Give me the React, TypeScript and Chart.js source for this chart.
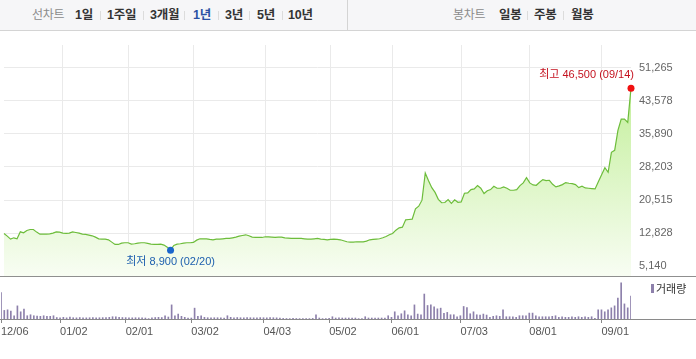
import React, { useEffect, useRef } from 'react';
import { Chart, registerables } from 'chart.js';

Chart.register(...registerables);

const FONT = '"Liberation Sans", "Noto Sans CJK KR", sans-serif';

// Trading calendar (KRX), first and last day shown
const START_DAY = '2016-12-06';
const END_DAY = '2017-09-14';
const HOLIDAYS = [
  '2016-12-30', '2017-01-27', '2017-01-30', '2017-03-01', '2017-05-01',
  '2017-05-03', '2017-05-05', '2017-05-09', '2017-06-06', '2017-08-15',
];

// X tick labels (dates that carry a tick)
const xTickDates = ['12/06', '01/02', '02/01', '03/02', '04/03', '05/02', '06/01', '07/03', '08/01', '09/01'];

// Y tick values (price axis)
const yTickValues = [5140, 12827.5, 20515, 28202.5, 35890, 43577.5, 51265];

// Daily close prices
const prices = [
  12770, 12150, 11450, 11760, 11530, 13150, 12920, 13460, 13690, 13690,
  13080, 12610, 12610, 12610, 12690, 12840, 13150, 13080, 12840, 12770,
  12840, 13150, 13000, 12840, 12610, 12540, 12380, 12230, 11920, 11530,
  11460, 11460, 11300, 10760, 10220, 10220, 10530, 10610, 10610, 10300,
  10380, 10530, 10610, 10610, 10450, 10300, 10220, 10220, 10300, 10070,
  9600, 8900, 9990, 10300, 10380, 10530, 10610, 10610, 10680, 11220,
  11530, 11530, 11530, 11380, 11300, 11460, 11460, 11530, 11610, 11610,
  11760, 11920, 12150, 12300, 12460, 12230, 11920, 11840, 11840, 11840,
  12000, 12000, 11920, 11840, 11920, 11920, 11760, 11690, 11610, 11610,
  11610, 11610, 11530, 11460, 11460, 11530, 11610, 11460, 11380,
  11300, 11380, 11460, 11380, 11300, 11070, 10840, 10760, 10760, 10840,
  10840, 10840, 10990, 11300, 11380, 11460, 11540, 11770, 12080, 12460,
  12770, 13540, 14080, 14230, 15930, 16010, 16100, 18480, 19100, 20500,
  26800, 25000, 23400, 22300, 20700, 19900, 19950, 20650, 19750, 20600,
  20000, 20100, 22100, 22200, 22960, 23110, 23900, 23270, 22040, 22700,
  22960, 23730, 23260, 23260, 23570, 23260, 22800, 22800, 22950, 23880,
  24500, 25730, 24500, 24040, 23960, 24650, 25270, 25040, 25120, 24190,
  23580, 23810, 24110, 24580, 24420, 24340, 24110, 23420, 23730, 23340,
  23260, 23190, 23110, 24800, 26400, 28050, 26970, 31600, 32060, 36690,
  39320, 39320, 38540, 46500,
];

// Daily volume (relative units)
const volumes = [
  2670, 870, 930, 800, 330, 1330, 730, 1000, 330, 430,
  330, 300, 270, 330, 270, 270, 330, 150, 130, 170,
  120, 200, 130, 120, 150, 130, 120, 130, 140, 120,
  130, 140, 150, 170, 230, 230, 170, 150, 140, 130,
  120, 130, 120, 110, 100, 40, 120, 150, 170, 150,
  330, 200, 1430, 330, 500, 270, 170, 100, 100, 1100,
  270, 330, 170, 130, 130, 130, 130, 130, 100, 330,
  170, 130, 150, 130, 120, 150, 130, 120, 130, 140,
  130, 120, 150, 130, 120, 100, 60, 50, 40, 80,
  50, 40, 40, 50, 40, 60, 430, 100, 40,
  40, 60, 230, 100, 120, 100, 100, 100, 100, 100,
  40, 40, 230, 100, 100, 100, 100, 100, 100, 330,
  170, 730, 330, 530, 830, 430, 330, 1430, 500, 430,
  2530, 1370, 1430, 1230, 1030, 1100, 570, 670, 430, 430,
  230, 330, 1270, 1170, 530, 730, 430, 400, 500, 400,
  170, 270, 330, 270, 930, 230, 230, 230, 170, 330,
  330, 330, 600, 600, 330, 230, 230, 230, 230, 270,
  330, 170, 230, 170, 170, 230, 170, 230, 170, 230,
  170, 230, 70, 930, 930, 730, 930, 1130, 1330, 2130,
  3670, 1530, 1130, 2330,
];

const periodTabs = ['1일', '1주일', '3개월', '1년', '3년', '5년', '10년'];
const candleTabs = ['일봉', '주봉', '월봉'];

function tradingDays(): string[] {
  const out: string[] = [];
  const d = new Date(START_DAY + 'T00:00:00Z');
  const end = new Date(END_DAY + 'T00:00:00Z');
  while (d.getTime() <= end.getTime()) {
    const iso = d.toISOString().slice(0, 10);
    const wd = d.getUTCDay();
    if (wd !== 0 && wd !== 6 && !HOLIDAYS.includes(iso)) out.push(iso.slice(5, 7) + '/' + iso.slice(8, 10));
    d.setUTCDate(d.getUTCDate() + 1);
  }
  return out;
}

const dates = tradingDays();
const tickIdx = xTickDates.map((t) => dates.indexOf(t)).filter((i) => i >= 0);
const fmt = (v: number) => Math.round(v).toLocaleString('en-US');
const maxIdx = prices.indexOf(Math.max(...prices));
const minIdx = prices.indexOf(Math.min(...prices));

const annotPlugin = {
  id: 'annot',
  afterDatasetsDraw(chart: any) {
    const meta = chart.getDatasetMeta(0);
    const ctx = chart.ctx;
    const pMax = meta.data[maxIdx];
    const pMin = meta.data[minIdx];
    ctx.save();
    ctx.font = '11px ' + FONT;
    ctx.textBaseline = 'middle';
    if (pMax) {
      ctx.fillStyle = '#c4121f';
      ctx.textAlign = 'right';
      ctx.fillText(`최고 ${fmt(prices[maxIdx])} (${dates[maxIdx]})`, pMax.x + 3, pMax.y - 13);
    }
    if (pMin) {
      ctx.fillStyle = '#1d5fae';
      ctx.textAlign = 'center';
      ctx.fillText(`최저 ${fmt(prices[minIdx])} (${dates[minIdx]})`, pMin.x, pMin.y + 12);
    }
    ctx.restore();
  },
};

function PriceChart() {
  const ref = useRef<HTMLCanvasElement>(null);
  useEffect(() => {
    const chart = new Chart(ref.current!, {
      type: 'line',
      data: {
        labels: dates,
        datasets: [
          {
            data: prices,
            borderColor: '#6dbd3b',
            borderWidth: 1.2,
            tension: 0,
            fill: 'start',
            clip: false as any,
            backgroundColor: (c: any) => {
              const { ctx, chartArea } = c.chart;
              if (!chartArea) return 'rgba(0,0,0,0)';
              const g = ctx.createLinearGradient(0, chartArea.top, 0, chartArea.bottom);
              g.addColorStop(0, '#b8ec88');
              g.addColorStop(1, '#f8fdf3');
              return g;
            },
            pointRadius: (c: any) => (c.dataIndex === maxIdx || c.dataIndex === minIdx ? 3.5 : 0),
            pointBackgroundColor: (c: any) => (c.dataIndex === maxIdx ? '#f01010' : '#1a66cc'),
            pointBorderWidth: 0,
          },
        ],
      },
      options: {
        responsive: false,
        animation: false,
        events: [],
        layout: { padding: { left: 1, top: 14, bottom: 4, right: 0 } },
        plugins: { legend: { display: false }, tooltip: { enabled: false } },
        scales: {
          x: {
            type: 'category',
            offset: false,
            grid: { color: '#eaeaea', drawTicks: false, offset: false },
            border: { display: false },
            ticks: { display: false, autoSkip: false, padding: 0 },
            afterBuildTicks: (s: any) => {
              s.ticks = tickIdx.filter((i) => i > 0).map((v) => ({ value: v }));
            },
            afterFit: (s: any) => {
              s.height = 0;
              s.paddingLeft = 0;
              s.paddingRight = 0;
            },
          },
          y: {
            position: 'right',
            min: 2896,
            max: 56517,
            grid: { color: '#eaeaea', drawTicks: false },
            border: { display: false },
            afterBuildTicks: (s: any) => {
              s.ticks = yTickValues.map((v) => ({ value: v }));
            },
            ticks: {
              callback: (v: any) => fmt(Number(v)),
              color: '#666',
              font: { family: FONT, size: 11 },
              padding: 8,
            },
            afterFit: (s: any) => {
              s.width = 65;
              s.paddingTop = 0;
              s.paddingBottom = 0;
            },
          },
        },
      } as any,
      plugins: [annotPlugin],
    });
    return () => chart.destroy();
  }, []);
  return <canvas ref={ref} width={696} height={249} style={{ position: 'absolute', left: 0, top: 31 }} />;
}

function VolumeChart() {
  const ref = useRef<HTMLCanvasElement>(null);
  useEffect(() => {
    const chart = new Chart(ref.current!, {
      type: 'bar',
      data: {
        labels: dates,
        datasets: [{ data: volumes, backgroundColor: '#8d80ab', barThickness: 1 }],
      },
      options: {
        responsive: false,
        animation: false,
        events: [],
        layout: { padding: { left: 1, top: 2, bottom: 0, right: 65 } },
        plugins: { legend: { display: false }, tooltip: { enabled: false } },
        scales: {
          x: {
            type: 'category',
            offset: false,
            grid: { drawOnChartArea: false, drawTicks: true, tickLength: 4, color: '#888', offset: false },
            border: { display: true, color: '#888' },
            ticks: {
              align: 'start',
              maxRotation: 0,
              autoSkip: false,
              padding: 2,
              color: '#555',
              font: { family: FONT, size: 11 },
              callback: (v: any) => dates[v],
            },
            afterBuildTicks: (s: any) => {
              s.ticks = tickIdx.map((v) => ({ value: v }));
            },
            afterFit: (s: any) => {
              s.height = 40;
              s.paddingLeft = 0;
              s.paddingRight = 0;
            },
          },
          y: { display: false, min: 0, max: 3750 },
        },
      } as any,
    });
    return () => chart.destroy();
  }, []);
  return <canvas ref={ref} width={696} height={79} style={{ position: 'absolute', left: 0, top: 280 }} />;
}

const tabPos = [75, 107, 150, 193, 225, 257, 288];
const sepPos = [100, 143, 184, 218, 249, 282];
const candlePos = [499, 534, 571];
const candleSep = [527, 563];

export default function App() {
  const tabStyle = (x: number, color: string, bold: boolean): React.CSSProperties => ({
    position: 'absolute',
    left: x,
    top: 7,
    fontSize: bold ? 12.5 : 12,
    lineHeight: '16px',
    fontWeight: bold ? 700 : 400,
    color,
    fontFamily: FONT,
    whiteSpace: 'nowrap',
    letterSpacing: bold ? -0.2 : -0.3,
  });
  const sepStyle = (x: number): React.CSSProperties => ({
    position: 'absolute',
    left: x,
    top: 11,
    width: 1,
    height: 9,
    background: '#dcdcdc',
  });
  return (
    <div style={{ position: 'absolute', left: 0, top: 0, width: 696, height: 359, background: '#fff', overflow: 'hidden' }}>
      <div style={{ position: 'absolute', left: 0, top: 0, width: 696, height: 30, background: '#f6f6f8', borderBottom: '1px solid #d4d4d4' }}>
        <div style={tabStyle(32, '#8b8b8b', false)}>선차트</div>
        {periodTabs.map((t, i) => (
          <div key={t} style={tabStyle(tabPos[i], t === '1년' ? '#2b51a3' : '#333', true)}>{t}</div>
        ))}
        {sepPos.map((x) => (
          <div key={x} style={sepStyle(x)} />
        ))}
        <div style={{ position: 'absolute', left: 347, top: 0, width: 1, height: 30, background: '#d4d4d4' }} />
        <div style={tabStyle(453, '#8b8b8b', false)}>봉차트</div>
        {candleTabs.map((t, i) => (
          <div key={t} style={tabStyle(candlePos[i], '#333', true)}>{t}</div>
        ))}
        {candleSep.map((x) => (
          <div key={x} style={sepStyle(x)} />
        ))}
      </div>
      <PriceChart />
      <div style={{ position: 'absolute', left: 0, top: 276, width: 696, height: 1, background: '#8f8f8f' }} />
      <VolumeChart />
      <div style={{ position: 'absolute', left: 0, top: 319, width: 696, height: 1, background: '#8a8a8a' }} />
      <div style={{ position: 'absolute', left: 651, top: 284, width: 3, height: 9, background: '#8d80ab' }} />
      <div style={{ position: 'absolute', left: 656, top: 281, fontSize: 11, lineHeight: '16px', color: '#333', fontFamily: FONT }}>거래량</div>
    </div>
  );
}
